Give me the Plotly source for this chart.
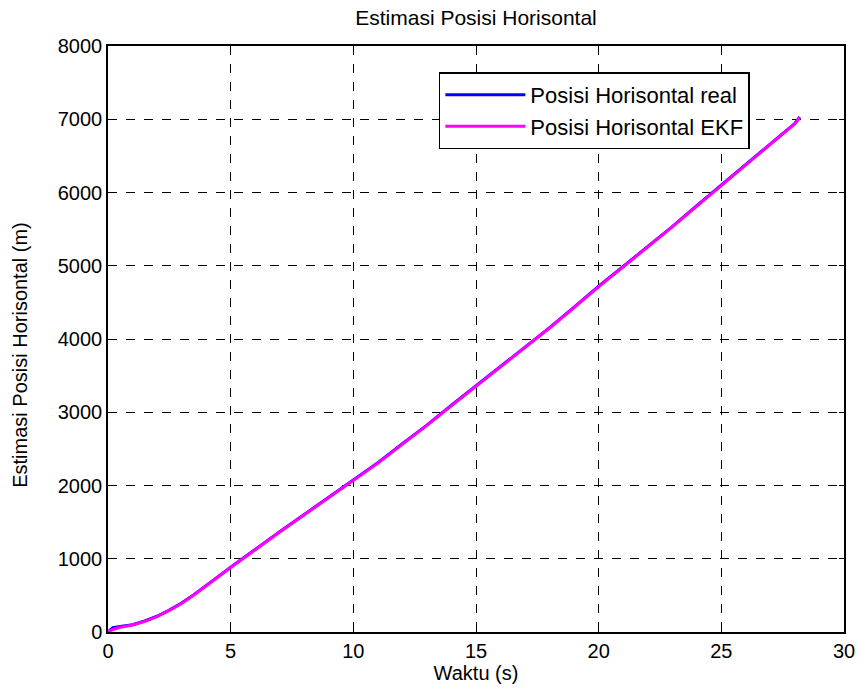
import plotly.graph_objects as go

t = [0, 0.2, 0.5, 1, 1.5, 2, 2.5, 3, 3.5, 4, 4.5, 5, 6, 7, 8, 9, 10, 11, 12, 13, 14,
     15, 16, 17, 18, 19, 20, 21, 22, 23, 24, 25, 26, 27, 28, 28.2]
pos_real = [0, 60, 75, 100, 150, 215, 300, 395, 510, 640, 760, 885, 1130, 1370, 1605, 1840,
            2075, 2310, 2570, 2825, 3095, 3360, 3625, 3890, 4155, 4435, 4720, 4990, 5260,
            5535, 5820, 6100, 6380, 6660, 6945, 7030]
pos_ekf = [0, 35, 65, 95, 145, 210, 295, 390, 505, 635, 755, 880, 1125, 1365, 1600, 1835,
           2070, 2305, 2565, 2820, 3090, 3355, 3620, 3885, 4150, 4430, 4715, 4985, 5255,
           5530, 5815, 6095, 6375, 6655, 6940, 7025]

x_ticks = [0, 5, 10, 15, 20, 25, 30]
y_ticks = [0, 1000, 2000, 3000, 4000, 5000, 6000, 7000, 8000]

FS = 20
FONT = "Liberation Sans, Arial, sans-serif"

fig = go.Figure()
fig.add_trace(go.Scatter(x=t, y=pos_real, mode="lines", name="Posisi Horisontal real",
                         line=dict(color="#0000ff", width=3)))
fig.add_trace(go.Scatter(x=t, y=pos_ekf, mode="lines", name="Posisi Horisontal EKF",
                         line=dict(color="#ff00ff", width=3)))

axis_common = dict(showline=True, linecolor="black", linewidth=1.5, mirror="ticks",
                   ticks="inside", ticklen=5, tickcolor="black",
                   showgrid=True, gridcolor="black", griddash="dash", gridwidth=1,
                   zeroline=False, tickfont=dict(size=FS, color="black", family=FONT))

fig.update_xaxes(range=[0, 30], tickvals=x_ticks,
                 title=dict(text="Waktu (s)", font=dict(size=FS, color="black", family=FONT), standoff=2),
                 **axis_common)
fig.update_yaxes(range=[0, 8000], tickvals=y_ticks, **axis_common)

fig.add_annotation(text="Estimasi Posisi Horisontal (m)", xref="paper", yref="paper",
                   x=0, y=0.473, xshift=-88, textangle=-90, showarrow=False,
                   xanchor="center", yanchor="middle",
                   font=dict(size=FS, color="black", family=FONT))

fig.update_layout(
    width=867, height=696,
    margin=dict(l=108, r=16, t=46, b=64),
    paper_bgcolor="white", plot_bgcolor="white",
    font=dict(family=FONT, color="black"),
    title=dict(text="Estimasi Posisi Horisontal", x=0.5, xref="paper", xanchor="center",
               y=0.974, yanchor="middle",
               font=dict(size=21, color="black", family=FONT)),
    legend=dict(x=0.4495, y=0.955, xanchor="left", yanchor="top", bgcolor="white",
                bordercolor="black", borderwidth=1.5, font=dict(size=22, color="black", family=FONT),
                itemwidth=80, tracegroupgap=0),
    showlegend=True,
)

fig.write_html("out.html")
